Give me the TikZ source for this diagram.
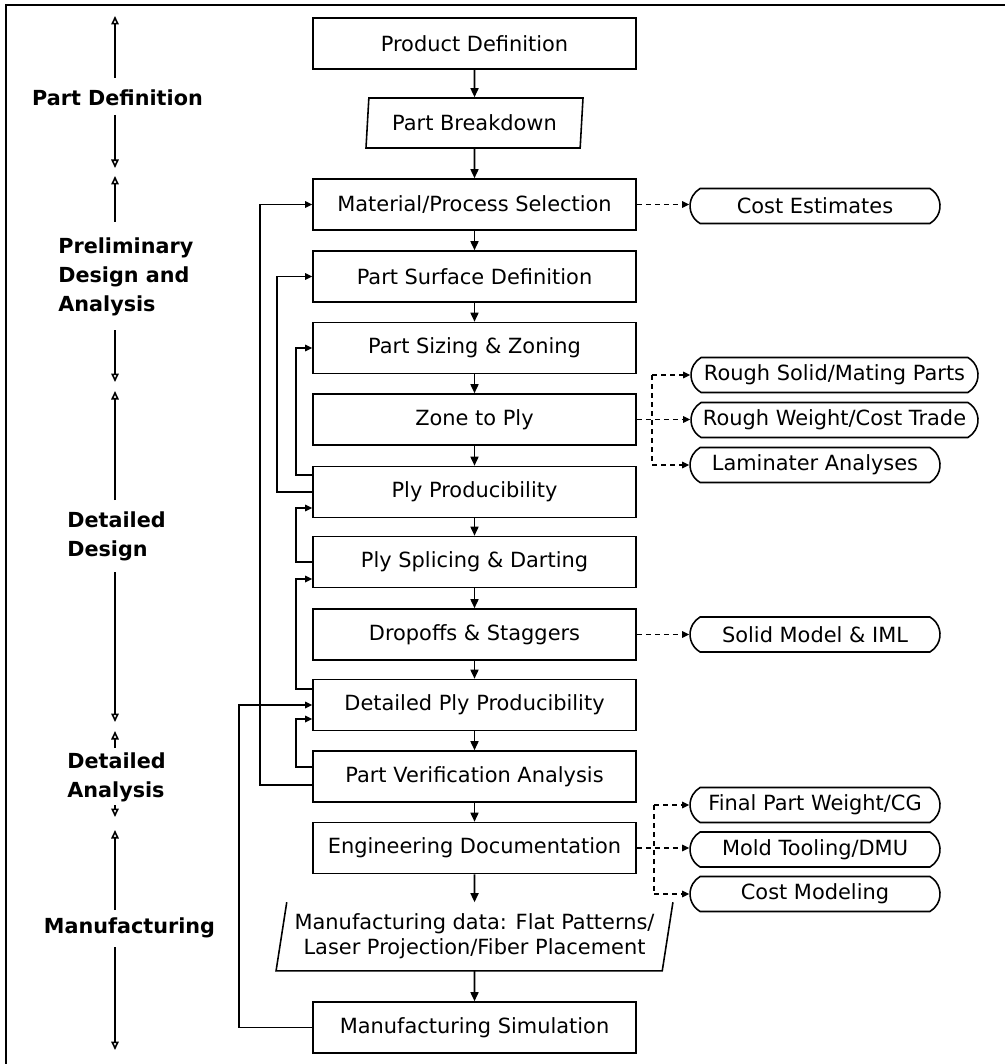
\documentclass[tikz,border=0pt]{standalone}
\usepackage{fontspec}
\setmainfont{DejaVu Sans}
\usetikzlibrary{arrows.meta,shapes.geometric,shapes.misc}

\tikzset{
  stepbox/.style={draw, line width=0.9pt, minimum width=64.6mm, minimum height=10.2mm, inner sep=0pt, font=\fontsize{11.9}{14.2}\selectfont},
  databox/.style={trapezium, trapezium stretches body, trapezium left angle=80, trapezium right angle=100, line width=0.9pt, inner sep=0pt, font=\fontsize{11.9}{14.2}\selectfont},
  outbox/.style={draw, rounded rectangle, rounded rectangle arc length=120, line width=0.9pt, minimum width=50mm, minimum height=7mm, inner sep=0pt, font=\fontsize{11.9}{14.2}\selectfont},
  stagelabel/.style={font=\fontsize{11.8}{16.5}\selectfont\bfseries, align=left, inner sep=0pt},
  flow/.style={-{Triangle[length=1.8mm,width=1.6mm]}, line width=0.9pt},
  fback/.style={-{Triangle[length=1.4mm,width=1.3mm]}, line width=0.9pt},
  dashline/.style={line width=0.8pt, dash pattern=on 1mm off 0.8mm},
  outlink/.style={dashline, -{Triangle[length=1.4mm,width=1.3mm]}},
  stagearrow/.style={-{Triangle[open,length=1.7mm,width=1.5mm]}, line width=0.9pt}
}

\begin{document}
\begin{tikzpicture}[x=0.2mm, y=-0.2mm]
\useasboundingbox (0,0) rectangle (1005,1064);
\draw[line width=1.5pt] (6,1064) -- (6,5) -- (1005,5);

% stages
\node[stagelabel] (pdef) at (117.5,98) {Part Definition};
\node[stagelabel, anchor=west] (prelim) at (58,277) {Preliminary\\Design and\\Analysis};
\node[stagelabel, anchor=west] (ddes) at (67,536) {Detailed\\Design};
\node[stagelabel, anchor=west] (dana) at (67,777) {Detailed\\Analysis};
\node[stagelabel] (manu) at (129.5,928) {Manufacturing};

\foreach \n/\t/\a/\b/\d in {s1/16/78/115/168, s2/176/222/330/382, s3/391/500/572/722, s4/731/748/805/817, s5/830/910/947/1050} {
  \coordinate (\n top) at (115,\t);
  \coordinate (\n up) at (115,\a);
  \coordinate (\n down) at (115,\b);
  \coordinate (\n bot) at (115,\d);
  \draw[stagearrow] (\n up) -- (\n top);
  \draw[stagearrow] (\n down) -- (\n bot);
}

% main flow
\node[stepbox] (prod) at (474.5,43.5) {Product Definition};
\node[databox, draw, minimum width=43.4mm, minimum height=10mm] (brk) at (474.5,123) {Part Breakdown};
\node[stepbox] (mat) at (474.5,204.5) {Material/Process Selection};
\node[stepbox] (surf) at (474.5,276.5) {Part Surface Definition};
\node[stepbox] (siz) at (474.5,348) {Part Sizing \& Zoning};
\node[stepbox] (zone) at (474.5,419.5) {Zone to Ply};
\node[stepbox] (plyp) at (474.5,492) {Ply Producibility};
\node[stepbox] (splice) at (474.5,562) {Ply Splicing \& Darting};
\node[stepbox] (drop) at (474.5,634.5) {Dropoffs \& Staggers};
\node[stepbox] (dply) at (474.5,705) {Detailed Ply Producibility};
\node[stepbox] (verif) at (474.5,776.5) {Part Verification Analysis};
\node[stepbox] (eng) at (474.5,848) {Engineering Documentation};
\node[databox, trapezium left angle=77, trapezium right angle=103, minimum width=79mm, minimum height=13.4mm, align=center] (mdata) at (474.5,936.5) {Manufacturing data: Flat Patterns/\\Laser Projection/Fiber Placement};
\node[stepbox] (sim) at (474.5,1027.5) {Manufacturing Simulation};

\draw[line width=0.9pt] (mdata.top left corner) -- (mdata.bottom left corner) -- (mdata.bottom right corner) -- (mdata.top right corner);

\foreach \a/\b in {prod/brk, brk/mat, mat/surf, surf/siz, siz/zone, zone/plyp, plyp/splice, splice/drop, drop/dply, dply/verif, verif/eng, eng/mdata, mdata/sim}
  \draw[flow] (\a) -- (\b);

% feedback loops
\coordinate (fbA) at (260,0);
\coordinate (fbB) at (277,0);
\coordinate (fbC) at (296,0);
\coordinate (fbG) at (239,0);
\coordinate (verifA) at ([yshift=-1.7mm]verif.west);
\coordinate (verifF) at ([yshift=1.9mm]verif.west);
\coordinate (plypC) at ([yshift=3.4mm]plyp.west);
\coordinate (plypD) at ([yshift=-3.2mm]plyp.west);
\coordinate (spliceE) at ([yshift=-3.4mm]splice.west);
\coordinate (dplyE) at ([yshift=3.2mm]dply.west);
\coordinate (dplyF) at ([yshift=-2.8mm]dply.west);

\draw[fback] (verifA) -- (verifA -| fbA) |- (mat.west);
\draw[fback] (plyp.west) -- (plyp.west -| fbB) |- (surf.west);
\draw[fback] (plypC) -- (plypC -| fbC) |- (siz.west);
\draw[fback] (splice.west) -- (splice.west -| fbC) |- (plypD);
\draw[fback] (dplyE) -- (dplyE -| fbC) |- (spliceE);
\draw[fback] (verifF) -- (verifF -| fbC) |- (dplyF);
\draw[fback] (sim.west) -- (sim.west -| fbG) |- (dply.west);

% outputs
\node[outbox] (costest) at (815,206) {Cost Estimates};
\node[outbox, minimum width=57.4mm] (rsolid) at (834.5,375) {Rough Solid/Mating Parts};
\node[outbox, minimum width=57.4mm] (rweight) at (834.5,420) {Rough Weight/Cost Trade};
\node[outbox] (lamin) at (815,465) {Laminater Analyses};
\node[outbox] (solidm) at (815,634.5) {Solid Model \& IML};
\node[outbox] (finalw) at (815,805) {Final Part Weight/CG};
\node[outbox] (moldt) at (815,849.5) {Mold Tooling/DMU};
\node[outbox] (costmod) at (815,894) {Cost Modeling};

\draw[outlink] (mat.east) -- (mat.east -| costest.west);
\draw[outlink] (drop.east) -- (drop.east -| solidm.west);

\coordinate (ztrunk) at (652,0);
\draw[outlink] (zone.east) -- (zone.east -| rweight.west);
\draw[dashline] (ztrunk |- rsolid.west) -- (ztrunk |- lamin.west);
\draw[outlink] (ztrunk |- rsolid.west) -- (rsolid.west);
\draw[outlink] (ztrunk |- lamin.west) -- (lamin.west);

\coordinate (etrunk) at (654,0);
\draw[outlink] (eng.east) -- (eng.east -| moldt.west);
\draw[dashline] (etrunk |- finalw.west) -- (etrunk |- costmod.west);
\draw[outlink] (etrunk |- finalw.west) -- (finalw.west);
\draw[outlink] (etrunk |- costmod.west) -- (costmod.west);
\end{tikzpicture}
\end{document}
